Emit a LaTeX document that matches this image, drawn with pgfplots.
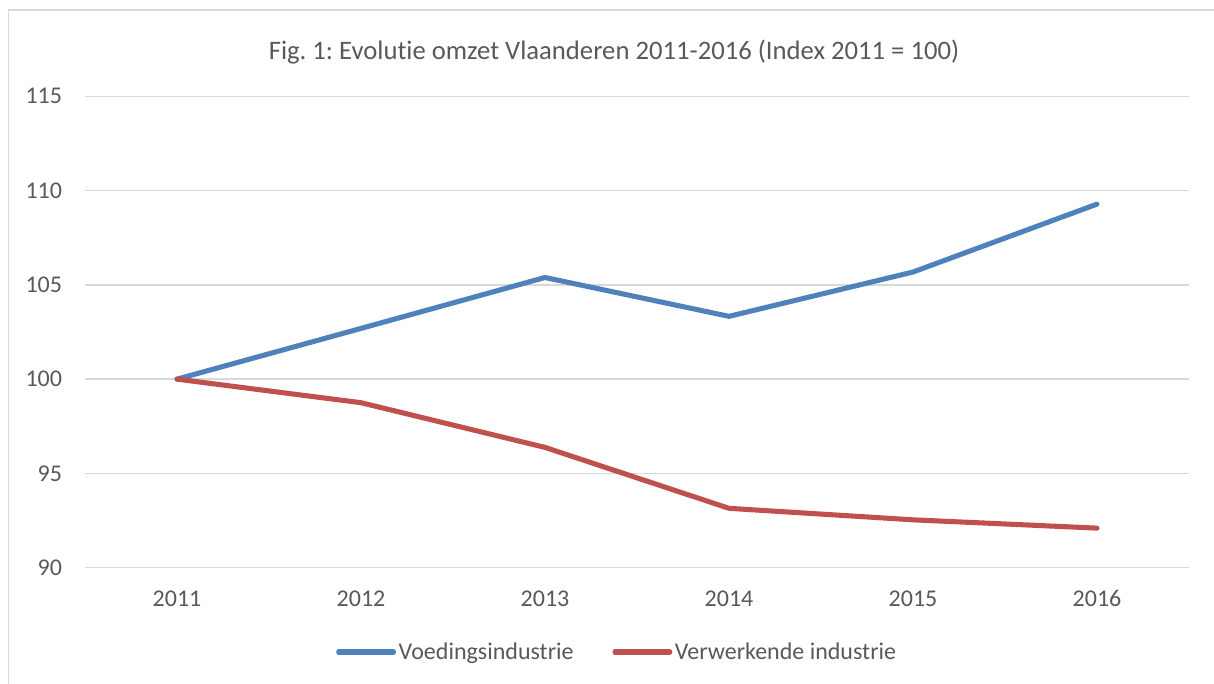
\documentclass[border=0pt]{standalone}
\usepackage{pgfplots}
\pgfplotsset{compat=1.18}
\usepackage{fontspec}
\setmainfont{Carlito}[Ligatures=NoCommon]
\frenchspacing
\definecolor{txt}{HTML}{595959}
\definecolor{grid}{HTML}{D9D9D9}
\definecolor{cblue}{HTML}{4F81BD}
\definecolor{cred}{HTML}{C0504D}
\begin{document}
\begin{tikzpicture}
\useasboundingbox (0,0) rectangle (910.5pt,513pt);
\draw[grid, line width=1.1pt] (6.4pt,0) -- (6.4pt,505.5pt) -- (910.5pt,505.5pt);
\node[anchor=base, text=txt, font=\fontsize{20}{24}\selectfont, inner sep=0pt] at (460.5pt,468pt) {Fig. 1: Evolutie omzet Vlaanderen 2011-2016 (Index 2011 = 100)};
\begin{axis}[
  at={(63.75pt,87.2pt)}, anchor=south west,
  scale only axis, width=828pt, height=353.6pt,
  xmin=0, xmax=6, ymin=90, ymax=115,
  xtick={0.5,1.5,2.5,3.5,4.5,5.5},
  xticklabels={2011,2012,2013,2014,2015,2016},
  ytick={90,95,100,105,110,115},
  axis line style={draw=none},
  major tick length=0pt,
  tick style={draw=none},
  xmajorgrids=false,
  ymajorgrids=true,
  y grid style={grid, line width=1.1pt},
  /pgf/number format/assume math mode=true,
  tick label style={text=txt, font=\fontsize{18}{22}\selectfont},
  yticklabel style={anchor=east, inner sep=0pt, xshift=-17pt},
  xticklabel style={anchor=base, inner sep=0pt, yshift=-29pt},
  legend columns=2,
  legend style={draw=none, fill=none, at={(0.2274,-0.1788)}, anchor=west, inner sep=0pt,
    font=\fontsize{18}{22}\selectfont, text=txt,
    /tikz/every even column/.append style={column sep=27.2pt}},
  legend cell align=left,
  legend image code/.code={\path (0pt,0pt) -- (41pt,0pt); \draw[#1, line cap=round] (0pt,0pt) -- (38pt,0pt);},
]
\addplot[cblue, line width=3.8pt, line cap=round, line join=round] coordinates {
  (0.5,100) (1.5,102.69) (2.5,105.39) (3.5,103.33) (4.5,105.68) (5.5,109.28)};
\addlegendentry{Voedingsindustrie}
\addplot[cred, line width=3.8pt, line cap=round, line join=round] coordinates {
  (0.5,100) (1.5,98.75) (2.5,96.38) (3.5,93.15) (4.5,92.54) (5.5,92.10)};
\addlegendentry{Verwerkende industrie}
\end{axis}
\end{tikzpicture}
\end{document}
